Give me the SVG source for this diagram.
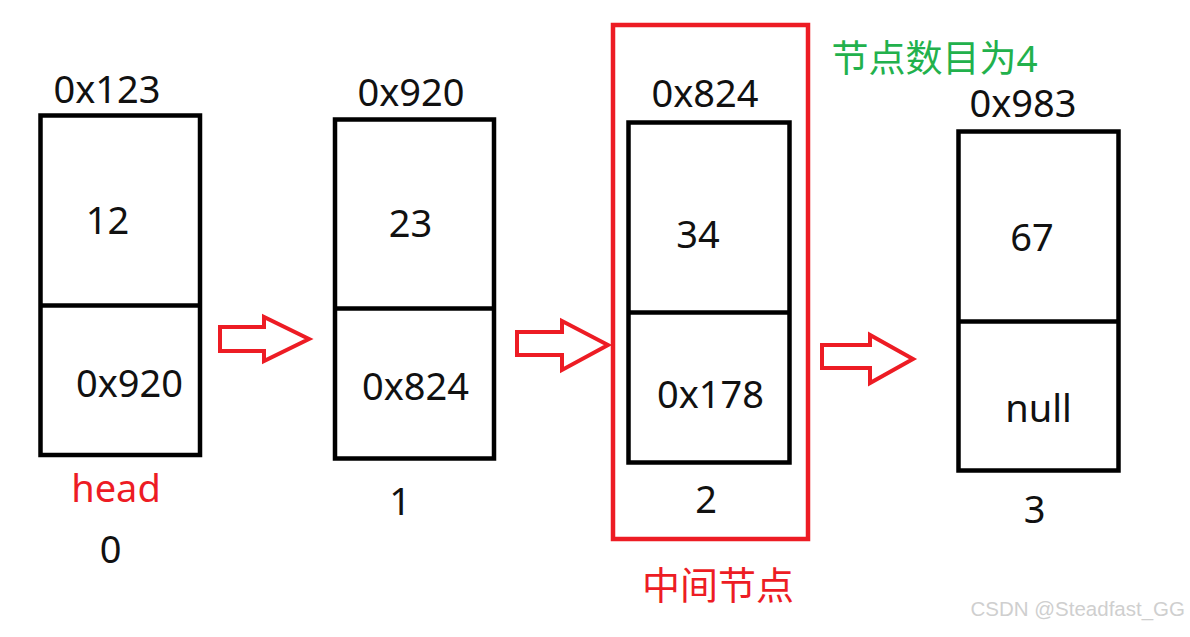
<svg xmlns="http://www.w3.org/2000/svg" width="1190" height="637" viewBox="0 0 1190 637">
<style>
.box{fill:none;stroke:#000;stroke-width:4.5}
.t{font-family:"Noto Sans","Noto Sans CJK SC",sans-serif;font-size:38px;fill:#111;text-anchor:middle}
.red{fill:#ed1c24}
.green{fill:#22b14c}
.arrow{fill:none;stroke:#ed1c24;stroke-width:4;stroke-linejoin:miter}
.wm{font-family:"Liberation Sans",Arial,sans-serif;font-size:20.5px;fill:#cfcfcf;text-anchor:end}
</style>
<rect width="1190" height="637" fill="#fff"/>
<g id="middle-frame">
  <rect x="613" y="25" width="195" height="514" fill="none" stroke="#ed1c24" stroke-width="4.5"/>
  <text class="t red" x="718" y="599" font-size="38">中间节点</text>
</g>
<g id="count-label">
  <text class="t green" x="934.5" y="72" style="font-size:37px">节点数目为4</text>
</g>
<g id="node0">
  <text class="t" x="107" y="103">0x123</text>
  <rect class="box" x="40.5" y="115.5" width="159.5" height="339.5"/>
  <line x1="40.5" y1="305.5" x2="200" y2="305.5" stroke="#000" stroke-width="4.5"/>
  <text class="t" x="107.5" y="234">12</text>
  <text class="t" x="129.5" y="397">0x920</text>
  <text class="t red" x="116" y="502">head</text>
  <text class="t" x="110.5" y="563">0</text>
</g>
<g id="node1">
  <text class="t" x="411" y="106">0x920</text>
  <rect class="box" x="335" y="119.5" width="159" height="339"/>
  <line x1="335" y1="308.5" x2="494" y2="308.5" stroke="#000" stroke-width="4.5"/>
  <text class="t" x="410.5" y="237">23</text>
  <text class="t" x="415.5" y="400">0x824</text>
  <text class="t" x="400" y="515">1</text>
</g>
<g id="node2">
  <text class="t" x="705" y="107">0x824</text>
  <rect class="box" x="628.5" y="122.5" width="161" height="340"/>
  <line x1="628.5" y1="312.5" x2="789.5" y2="312.5" stroke="#000" stroke-width="4.5"/>
  <text class="t" x="698" y="248">34</text>
  <text class="t" x="710.5" y="408">0x178</text>
  <text class="t" x="706" y="513">2</text>
</g>
<g id="node3">
  <text class="t" x="1023" y="117">0x983</text>
  <rect class="box" x="958.5" y="131.5" width="160" height="339"/>
  <line x1="958.5" y1="321.5" x2="1118.5" y2="321.5" stroke="#000" stroke-width="4.5"/>
  <text class="t" x="1032" y="251">67</text>
  <text class="t" x="1038.5" y="422">null</text>
  <text class="t" x="1034.5" y="523">3</text>
</g>
<g id="connectors">
  <path class="arrow" d="M220,327 H264 V317 L309,339 L264,361 V351 H220 Z"/>
  <path class="arrow" d="M517,332 H562 V321 L608,345 L562,370 V355 H517 Z"/>
  <path class="arrow" d="M822,345 H870 V335 L913,359 L870,383 V368 H822 Z"/>
</g>
<text class="wm" x="1185" y="616">CSDN @Steadfast_GG</text>
</svg>
